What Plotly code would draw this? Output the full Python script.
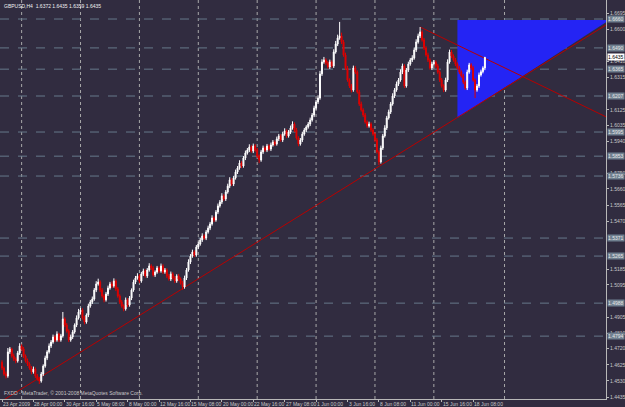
import plotly.graph_objects as go

# ---------------- data (GBPUSD H4) ----------------
opens = [
1.4640,1.4606,1.4571,1.4559,1.4701,1.4718,1.4677,1.4659,1.4648,1.4695,
1.4736,1.4718,1.4677,1.4648,1.4630,1.4606,1.4583,1.4600,1.4559,1.4542,
1.4530,1.4571,1.4618,1.4665,1.4701,1.4736,1.4759,1.4789,1.4771,1.4806,
1.4771,1.4795,1.4895,1.4859,1.4824,1.4771,1.4789,1.4818,1.4859,1.4901,
1.4936,1.4948,1.4901,1.4877,1.4918,1.4971,1.4995,1.5012,1.5065,1.5101,
1.5112,1.5065,1.5030,1.5007,1.5042,1.5077,1.5101,1.5089,1.5118,1.5071,
1.5030,1.4995,1.4971,1.4954,1.5007,1.4977,1.5018,1.5065,1.5112,1.5136,
1.5148,1.5118,1.5160,1.5177,1.5148,1.5183,1.5207,1.5195,1.5154,1.5171,
1.5195,1.5177,1.5207,1.5171,1.5183,1.5148,1.5130,1.5160,1.5136,1.5118,
1.5148,1.5130,1.5107,1.5083,1.5136,1.5183,1.5230,1.5265,1.5289,1.5271,
1.5318,1.5336,1.5360,1.5383,1.5371,1.5407,1.5430,1.5454,1.5489,1.5477,
1.5524,1.5560,1.5583,1.5619,1.5601,1.5642,1.5677,1.5713,1.5689,1.5725,
1.5760,1.5783,1.5813,1.5795,1.5842,1.5872,1.5889,1.5907,1.5883,1.5913,
1.5889,1.5854,1.5830,1.5878,1.5901,1.5889,1.5913,1.5895,1.5919,1.5936,
1.5925,1.5954,1.5972,1.5948,1.5983,1.6001,1.5972,1.5995,1.6019,1.6042,
1.6007,1.5960,1.5925,1.5948,1.5983,1.6007,1.6025,1.6042,1.6066,1.6095,
1.6136,1.6172,1.6195,1.6337,1.6407,1.6419,1.6401,1.6378,1.6407,1.6384,
1.6466,1.6513,1.6548,1.6560,1.6525,1.6448,1.6372,1.6301,1.6266,1.6242,
1.6372,1.6348,1.6231,1.6160,1.6125,1.6095,1.6054,1.6031,1.6042,1.6007,
1.5983,1.5948,1.5878,1.5819,1.5901,1.5972,1.6019,1.6078,1.6113,1.6160,
1.6207,1.6242,1.6278,1.6301,1.6348,1.6384,1.6266,1.6360,1.6395,1.6419,
1.6431,1.6478,1.6525,1.6560,1.6584,1.6537,1.6490,1.6448,1.6419,1.6372,
1.6395,1.6407,1.6384,1.6348,1.6301,1.6266,1.6242,1.6301,1.6407,1.6466,
1.6442,1.6419,1.6395,1.6372,1.6348,1.6325,1.6289,1.6254,1.6348,1.6390,
1.6372,1.6301,1.6242,1.6266,1.6331,1.6350,1.6372]
highs = [
1.4652,1.4616,1.4586,1.4724,1.4730,1.4726,1.4691,1.4669,1.4707,1.4752,
1.4746,1.4730,1.4686,1.4662,1.4640,1.4618,1.4615,1.4610,1.4571,1.4552,
1.4583,1.4628,1.4679,1.4711,1.4751,1.4771,1.4803,1.4799,1.4822,1.4814,
1.4807,1.4936,1.4905,1.4871,1.4834,1.4803,1.4830,1.4869,1.4916,1.4954,
1.4960,1.4958,1.4913,1.4928,1.4985,1.5007,1.5027,1.5077,1.5117,1.5132,
1.5122,1.5077,1.5040,1.5054,1.5091,1.5113,1.5116,1.5134,1.5128,1.5083,
1.5040,1.5007,1.4981,1.5021,1.5017,1.5030,1.5075,1.5126,1.5148,1.5164,
1.5158,1.5172,1.5191,1.5187,1.5195,1.5223,1.5217,1.5207,1.5181,1.5207,
1.5205,1.5221,1.5217,1.5195,1.5193,1.5160,1.5174,1.5170,1.5148,1.5158,
1.5160,1.5140,1.5119,1.5150,1.5195,1.5246,1.5277,1.5303,1.5299,1.5330,
1.5350,1.5372,1.5399,1.5393,1.5419,1.5444,1.5466,1.5505,1.5499,1.5536,
1.5574,1.5595,1.5635,1.5629,1.5654,1.5691,1.5729,1.5723,1.5737,1.5774,
1.5795,1.5829,1.5823,1.5854,1.5886,1.5901,1.5923,1.5917,1.5927,1.5923,
1.5901,1.5864,1.5890,1.5915,1.5911,1.5925,1.5923,1.5933,1.5948,1.5946,
1.5968,1.5984,1.5982,1.5997,1.6017,1.6011,1.6007,1.6033,1.6058,1.6052,
1.6019,1.5970,1.5960,1.5997,1.6019,1.6035,1.6054,1.6080,1.6107,1.6150,
1.6184,1.6211,1.6355,1.6423,1.6437,1.6429,1.6413,1.6421,1.6417,1.6482,
1.6531,1.6568,1.6643,1.6580,1.6537,1.6462,1.6384,1.6311,1.6278,1.6386,
1.6384,1.6358,1.6243,1.6174,1.6135,1.6107,1.6064,1.6056,1.6052,1.6019,
1.5993,1.5960,1.5888,1.5915,1.5984,1.6035,1.6090,1.6127,1.6172,1.6223,
1.6254,1.6292,1.6313,1.6364,1.6398,1.6394,1.6372,1.6409,1.6431,1.6447,
1.6492,1.6541,1.6574,1.6613,1.6594,1.6549,1.6500,1.6462,1.6429,1.6409,
1.6419,1.6417,1.6396,1.6358,1.6313,1.6276,1.6315,1.6423,1.6480,1.6478,
1.6452,1.6431,1.6405,1.6384,1.6358,1.6337,1.6299,1.6362,1.6402,1.6400,
1.6384,1.6311,1.6278,1.6345,1.6362,1.6382,1.6435]
lows = [
1.4594,1.4561,1.4545,1.4549,1.4689,1.4667,1.4647,1.4634,1.4638,1.4683,
1.4708,1.4665,1.4638,1.4618,1.4596,1.4569,1.4573,1.4547,1.4532,1.4512,
1.4520,1.4559,1.4608,1.4653,1.4691,1.4724,1.4749,1.4759,1.4761,1.4759,
1.4761,1.4785,1.4847,1.4814,1.4759,1.4761,1.4777,1.4808,1.4847,1.4891,
1.4924,1.4891,1.4863,1.4867,1.4906,1.4961,1.4983,1.5002,1.5053,1.5091,
1.5053,1.5020,1.4993,1.4997,1.5030,1.5067,1.5077,1.5079,1.5059,1.5020,
1.4983,1.4961,1.4940,1.4944,1.4965,1.4967,1.5006,1.5055,1.5100,1.5126,
1.5106,1.5108,1.5148,1.5138,1.5136,1.5173,1.5183,1.5144,1.5142,1.5161,
1.5165,1.5167,1.5159,1.5161,1.5136,1.5120,1.5118,1.5126,1.5106,1.5108,
1.5118,1.5097,1.5067,1.5073,1.5124,1.5173,1.5218,1.5255,1.5259,1.5261,
1.5306,1.5326,1.5348,1.5361,1.5359,1.5397,1.5418,1.5444,1.5465,1.5467,
1.5512,1.5550,1.5571,1.5591,1.5589,1.5632,1.5665,1.5679,1.5677,1.5715,
1.5748,1.5773,1.5783,1.5785,1.5830,1.5862,1.5877,1.5873,1.5871,1.5879,
1.5842,1.5812,1.5820,1.5866,1.5879,1.5877,1.5885,1.5883,1.5909,1.5913,
1.5915,1.5942,1.5938,1.5936,1.5973,1.5960,1.5962,1.5983,1.6009,1.5995,
1.5950,1.5911,1.5915,1.5936,1.5973,1.5995,1.6015,1.6030,1.6056,1.6083,
1.6126,1.6160,1.6185,1.6325,1.6397,1.6389,1.6368,1.6366,1.6374,1.6372,
1.6456,1.6501,1.6538,1.6513,1.6438,1.6360,1.6291,1.6254,1.6228,1.6232,
1.6336,1.6221,1.6148,1.6115,1.6083,1.6044,1.6019,1.6021,1.5995,1.5973,
1.5936,1.5868,1.5801,1.5809,1.5889,1.5962,1.6007,1.6068,1.6101,1.6150,
1.6195,1.6232,1.6266,1.6291,1.6336,1.6254,1.6256,1.6348,1.6385,1.6407,
1.6421,1.6466,1.6515,1.6548,1.6527,1.6478,1.6438,1.6407,1.6362,1.6360,
1.6385,1.6372,1.6338,1.6289,1.6256,1.6230,1.6232,1.6289,1.6397,1.6430,
1.6409,1.6383,1.6362,1.6336,1.6315,1.6277,1.6244,1.6242,1.6338,1.6360,
1.6291,1.6195,1.6232,1.6254,1.6321,1.6340,1.6359]
closes = [
1.4606,1.4571,1.4559,1.4701,1.4718,1.4677,1.4659,1.4648,1.4695,1.4736,
1.4718,1.4677,1.4648,1.4630,1.4606,1.4583,1.4600,1.4559,1.4542,1.4530,
1.4571,1.4618,1.4665,1.4701,1.4736,1.4759,1.4789,1.4771,1.4806,1.4771,
1.4795,1.4895,1.4859,1.4824,1.4771,1.4789,1.4818,1.4859,1.4901,1.4936,
1.4948,1.4901,1.4877,1.4918,1.4971,1.4995,1.5012,1.5065,1.5101,1.5112,
1.5065,1.5030,1.5007,1.5042,1.5077,1.5101,1.5089,1.5118,1.5071,1.5030,
1.4995,1.4971,1.4954,1.5007,1.4977,1.5018,1.5065,1.5112,1.5136,1.5148,
1.5118,1.5160,1.5177,1.5148,1.5183,1.5207,1.5195,1.5154,1.5171,1.5195,
1.5177,1.5207,1.5171,1.5183,1.5148,1.5130,1.5160,1.5136,1.5118,1.5148,
1.5130,1.5107,1.5083,1.5136,1.5183,1.5230,1.5265,1.5289,1.5271,1.5318,
1.5336,1.5360,1.5383,1.5371,1.5407,1.5430,1.5454,1.5489,1.5477,1.5524,
1.5560,1.5583,1.5619,1.5601,1.5642,1.5677,1.5713,1.5689,1.5725,1.5760,
1.5783,1.5813,1.5795,1.5842,1.5872,1.5889,1.5907,1.5883,1.5913,1.5889,
1.5854,1.5830,1.5878,1.5901,1.5889,1.5913,1.5895,1.5919,1.5936,1.5925,
1.5954,1.5972,1.5948,1.5983,1.6001,1.5972,1.5995,1.6019,1.6042,1.6007,
1.5960,1.5925,1.5948,1.5983,1.6007,1.6025,1.6042,1.6066,1.6095,1.6136,
1.6172,1.6195,1.6337,1.6407,1.6419,1.6401,1.6378,1.6407,1.6384,1.6466,
1.6513,1.6548,1.6560,1.6525,1.6448,1.6372,1.6301,1.6266,1.6242,1.6372,
1.6348,1.6231,1.6160,1.6125,1.6095,1.6054,1.6031,1.6042,1.6007,1.5983,
1.5948,1.5878,1.5819,1.5901,1.5972,1.6019,1.6078,1.6113,1.6160,1.6207,
1.6242,1.6278,1.6301,1.6348,1.6384,1.6266,1.6360,1.6395,1.6419,1.6431,
1.6478,1.6525,1.6560,1.6584,1.6537,1.6490,1.6448,1.6419,1.6372,1.6395,
1.6407,1.6384,1.6348,1.6301,1.6266,1.6242,1.6301,1.6407,1.6466,1.6442,
1.6419,1.6395,1.6372,1.6348,1.6325,1.6289,1.6254,1.6348,1.6390,1.6372,
1.6301,1.6242,1.6266,1.6331,1.6350,1.6372,1.6435]

# bottom time labels (every 16th bar)
date_bars = [0, 16, 32, 48, 64, 80, 96, 112, 128, 144, 160, 176, 192, 208, 224, 240]
date_labels = ["23 Apr 2009", "28 Apr 00:00", "30 Apr 16:00", "5 May 08:00",
               "8 May 00:00", "12 May 16:00", "15 May 08:00", "20 May 00:00",
               "22 May 16:00", "27 May 08:00", "1 Jun 00:00", "3 Jun 16:00",
               "8 Jun 08:00", "11 Jun 00:00", "15 Jun 16:00", "18 Jun 08:00"]

# price axis labels that remain visible (the others sit under the line-label boxes)
price_ticks = ["1.6695", "1.6600", "1.6410", "1.6315", "1.6125",
               "1.6035", "1.5940", "1.5750", "1.5660", "1.5565", "1.5470",
               "1.5185", "1.5095", "1.4905", "1.4810",
               "1.4720", "1.4625", "1.4530", "1.4435"]

# weekly period separators (bar index)
separator_bars = [10, 40, 70, 100, 130, 160, 190, 220, 256]

# horizontal line objects (price levels)
hline_levels = [1.6660, 1.6490, 1.6365, 1.6207, 1.5995, 1.5853, 1.5736,
                1.5371, 1.5265, 1.4988, 1.4794]

# trend lines: (bar0, price0, bar1, price1)
trend_lines = [(0, 1.4412, 308, 1.6627),
               (213, 1.6613, 308, 1.6083)]

# blue triangle object vertices (bar, price)
triangle_bars = [232, 309.5, 232]
triangle_prices = [1.6654, 1.6654, 1.6078]

symbol_title = "GBPUSD,H4  1.6372 1.6435 1.6359 1.6435"
last_price = "1.6435"
copyright_text = "FXDD - MetaTrader, \u00a9 2001-2008 MetaQuotes Software Corp."

# ---------------- figure ----------------
BG = "#312c40"
FG = "#c8c8c8"
FONT = "Liberation Sans Narrow, Liberation Sans, Arial"

bars = list(range(len(closes)))

fig = go.Figure()
fig.add_trace(go.Candlestick(
    x=bars, open=opens, high=highs, low=lows, close=closes,
    increasing=dict(line=dict(color="#ffffff", width=1), fillcolor="#ffffff"),
    decreasing=dict(line=dict(color="#e00000", width=1), fillcolor="#e00000"),
    whiskerwidth=0, showlegend=False, hoverinfo="skip",
))

shapes = []
path = "M {} {} L {} {} L {} {} Z".format(
    triangle_bars[0], triangle_prices[0], triangle_bars[1], triangle_prices[1],
    triangle_bars[2], triangle_prices[2])
shapes.append(dict(type="path", path=path, xref="x", yref="y",
                   fillcolor="#2424f4", line=dict(width=0), layer="below"))
for b in separator_bars:
    shapes.append(dict(type="line", xref="x", yref="paper", x0=b, x1=b, y0=0, y1=1,
                       line=dict(color="#a8a8a8", width=1, dash="dot"), layer="below"))
for lv in hline_levels:
    shapes.append(dict(type="line", xref="paper", yref="y", x0=0, x1=1, y0=lv, y1=lv,
                       line=dict(color="#66788a", width=1, dash="dash"), layer="below"))
for (b0, p0, b1, p1) in trend_lines:
    shapes.append(dict(type="line", xref="x", yref="y", x0=b0, y0=p0, x1=b1, y1=p1,
                       line=dict(color="#b80000", width=1), layer="below"))

annotations = []
for b, t in zip(date_bars, date_labels):
    annotations.append(dict(x=b - 0.5, y=0, xref="x", yref="paper", text=t,
                            showarrow=False, xanchor="left", yanchor="top", yshift=0,
                            font=dict(family=FONT, size=5, color=FG)))
for lv in hline_levels:
    annotations.append(dict(x=1, y=lv, xref="paper", yref="y", text="{:.4f}".format(lv),
                            showarrow=False, xanchor="left", yanchor="middle", xshift=1,
                            bgcolor="#6f7f8f", borderpad=0,
                            font=dict(family=FONT, size=5, color="#e8e8e8")))
annotations.append(dict(x=1, y=float(last_price), xref="paper", yref="y", text=last_price,
                        showarrow=False, xanchor="left", yanchor="middle", xshift=1,
                        bgcolor="#ffffff", borderpad=0,
                        font=dict(family=FONT, size=5, color="#000000")))
annotations.append(dict(x=0, y=1, xref="paper", yref="paper", text=symbol_title,
                        showarrow=False, xanchor="left", yanchor="top", xshift=2, yshift=-1,
                        font=dict(family=FONT, size=5, color="#f0f0f0")))
annotations.append(dict(x=0, y=0, xref="paper", yref="paper", text=copyright_text,
                        showarrow=False, xanchor="left", yanchor="bottom", xshift=2, yshift=1,
                        font=dict(family=FONT, size=5, color=FG)))

y_lo = 1.6772 - 399 * 0.0005885
fig.update_layout(
    width=625, height=407,
    margin=dict(l=0, r=19, t=0, b=8, pad=0),
    paper_bgcolor=BG, plot_bgcolor=BG,
    shapes=shapes, annotations=annotations,
    xaxis=dict(range=[-1.02, 307.7], showgrid=False, zeroline=False,
               rangeslider=dict(visible=False), showline=True, linecolor="#b8b8b8",
               linewidth=1, tickvals=date_bars, ticktext=[""] * len(date_bars),
               ticks="outside", ticklen=2, tickcolor="#b8b8b8", fixedrange=True),
    yaxis=dict(range=[y_lo, 1.6772], side="right", showgrid=False, zeroline=False,
               showline=True, linecolor="#b8b8b8", linewidth=1,
               tickvals=[float(t) for t in price_ticks], ticktext=price_ticks,
               ticks="outside", ticklen=2, tickcolor="#b8b8b8",
               tickfont=dict(family=FONT, size=5, color=FG), fixedrange=True),
    showlegend=False,
)

fig.write_html("out.html")
